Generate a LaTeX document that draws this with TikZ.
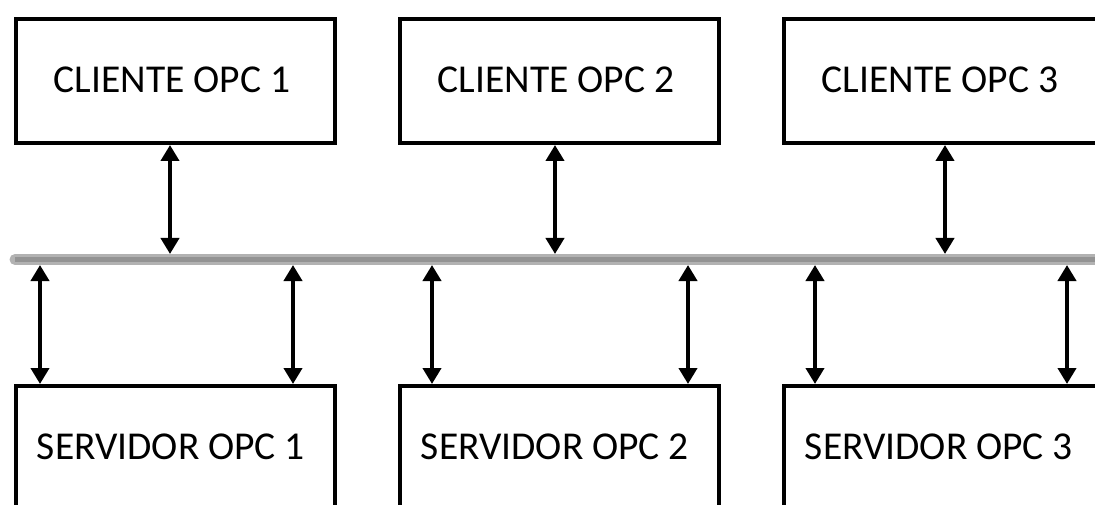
\documentclass[tikz,border=0pt]{standalone}
\usepackage{fontspec}
\setmainfont{Carlito}
\usetikzlibrary{arrows.meta}
\begin{document}
\begin{tikzpicture}[x=1pt,y=-1pt,
  box/.style={draw=black,line width=4pt,minimum width=319pt,minimum height=124pt,
    inner sep=0pt,anchor=north west},
  lbl/.style={font=\fontsize{39.5}{42}\selectfont,inner sep=0pt},
  link/.style={line width=4.2pt,{Triangle[width=18pt,length=16pt]}-{Triangle[width=18pt,length=16pt]}}]
\useasboundingbox (0,0) rectangle (1095,505);
\clip (0,0) rectangle (1095,505);
% client boxes
\node[box] (c1) at (14,17) {};
\node[lbl] (lc1) at (172,80) {CLIENTE OPC 1};
\node[box] (c2) at (398,17) {};
\node[lbl] (lc2) at (556,80) {CLIENTE OPC 2};
\node[box] (c3) at (782,17) {};
\node[lbl] (lc3) at (940,80) {CLIENTE OPC 3};
% server boxes
\node[box] (s1) at (14,384) {};
\node[lbl] (ls1) at (171,446.5) {SERVIDOR OPC 1};
\node[box] (s2) at (398,384) {};
\node[lbl] (ls2) at (555,446.5) {SERVIDOR OPC 2};
\node[box] (s3) at (782,384) {};
\node[lbl] (ls3) at (939,446.5) {SERVIDOR OPC 3};
% bus
\coordinate (busL) at (15,259.5);
\coordinate (busR) at (1110,259.5);
\draw[line width=11pt,gray!60,line cap=round] (busL) -- (busR);
\draw[line width=5pt,gray!85] (busL) -- (busR);
% bus attachment points
\coordinate (t1) at (170,254);
\coordinate (t2) at (555,254);
\coordinate (t3) at (945,254);
\foreach \x/\n in {40/1,293/2,432/3,688/4,815/5,1067/6}{\coordinate (b\n) at (\x,265);}
% client links
\draw[link] (t1 |- c1.south) -- (t1);
\draw[link] (t2 |- c2.south) -- (t2);
\draw[link] (t3 |- c3.south) -- (t3);
% server links
\draw[link] (b1) -- (b1 |- s1.north);
\draw[link] (b2) -- (b2 |- s1.north);
\draw[link] (b3) -- (b3 |- s2.north);
\draw[link] (b4) -- (b4 |- s2.north);
\draw[link] (b5) -- (b5 |- s3.north);
\draw[link] (b6) -- (b6 |- s3.north);
\end{tikzpicture}
\end{document}
